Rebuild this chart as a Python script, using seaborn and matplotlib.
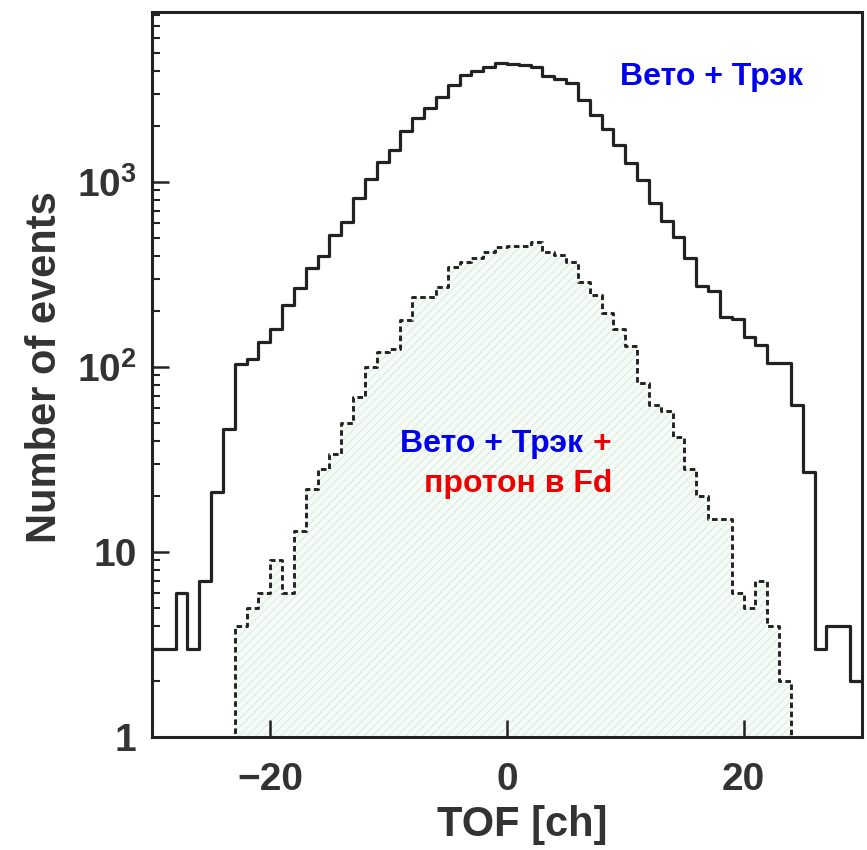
import numpy as np
import pandas as pd
import matplotlib
matplotlib.use("Agg")
import matplotlib.pyplot as plt
import seaborn as sns
from matplotlib.ticker import FixedLocator, FixedFormatter, LogLocator, NullFormatter, NullLocator

# ---- data ----
bin_left_all = list(range(-30, 30))          # TOF bins of width 1 [ch]
veto_track = [3, 3, 6, 3, 7, 21, 46, 104, 110, 136,
              160, 216, 267, 343, 398, 517, 608, 820, 1038, 1282,
              1489, 1888, 2218, 2513, 2878, 3342, 3785, 3984, 4175, 4400,
              4330, 4280, 4200, 3740, 3605, 3430, 2774, 2302, 1932, 1585,
              1268, 1026, 769, 615, 504, 390, 275, 258, 187, 182,
              145, 132, 105, 105, 62, 27, 3, 4, 4, 2]
bin_left_proton = list(range(-23, 24))
veto_track_proton = [4, 5, 6, 9, 6, 13, 22, 28, 34, 50,
                     69, 100, 120, 125, 180, 239, 239, 270, 346, 370,
                     388, 418, 446, 450, 450, 474, 418, 405, 370, 287,
                     246, 196, 160, 130, 82, 62, 58, 42, 28, 20,
                     15, 15, 6, 5, 7, 4, 2]
x_ticks = [-20, 0, 20]
x_tick_labels = ["\u221220", "0", "20"]
y_ticks = [1, 10, 100, 1000]
y_tick_labels = ["1", "10", r"$10^{2}$", r"$10^{3}$"]

sns.set_style("white")
plt.rcParams["font.family"] = ["Liberation Sans", "DejaVu Sans"]
plt.rcParams["font.weight"] = "bold"
plt.rcParams["mathtext.fontset"] = "custom"
plt.rcParams["mathtext.rm"] = "Liberation Sans:bold"
plt.rcParams["mathtext.bf"] = "Liberation Sans:bold"
plt.rcParams["mathtext.it"] = "Liberation Sans:bold"
plt.rcParams["hatch.color"] = "#d3edd9"
plt.rcParams["hatch.linewidth"] = 0.7

df_all = pd.DataFrame({"tof": np.array(bin_left_all) + 0.5, "n": veto_track})
df_p = pd.DataFrame({"tof": np.array(bin_left_proton) + 0.5, "n": veto_track_proton})
hist_kw = dict(x="tof", weights="n", bins=60, binrange=(-30, 30), element="step")

fig = plt.figure(figsize=(8.67, 8.5), dpi=100)
ax = fig.add_axes([0.1753, 0.1329, 0.8189, 0.8530])
ax.set_axisbelow(False)

# light hatched fill under the dashed histogram
sns.histplot(data=df_p, fill=True, color="#f7fbf8", alpha=1.0, linewidth=0, ax=ax, **hist_kw)
poly = ax.collections[-1]
poly.set_hatch("////")
poly.set_edgecolor("#d3edd9")
poly.set_linewidth(0)

# dashed outline
sns.histplot(data=df_p, fill=False, color="#222222", linewidth=2.1,
             linestyle=(0, (1.9, 1.2)), ax=ax, **hist_kw)
# solid outline
sns.histplot(data=df_all, fill=False, color="#222222", linewidth=2.3, ax=ax, **hist_kw)

ax.set_yscale("log")
ax.set_xlim(-30, 30)
ax.set_ylim(1, 8300)

ax.xaxis.set_major_locator(FixedLocator(x_ticks))
ax.xaxis.set_major_formatter(FixedFormatter(x_tick_labels))
ax.xaxis.set_minor_locator(NullLocator())
ax.yaxis.set_major_locator(FixedLocator(y_ticks))
ax.yaxis.set_major_formatter(FixedFormatter(y_tick_labels))
ax.yaxis.set_minor_locator(LogLocator(base=10, subs=range(2, 10)))
ax.yaxis.set_minor_formatter(NullFormatter())

ax.tick_params(axis="both", which="both", direction="in", top=False, right=False,
               left=True, bottom=True, colors="#222222", labelcolor="#333333")
ax.tick_params(axis="both", which="major", length=12, width=1.8, labelsize=28)
ax.tick_params(axis="x", which="major", pad=18)
ax.tick_params(axis="y", which="minor", length=6, width=1.5)
ax.tick_params(axis="y", which="major", pad=11)

for s in ax.spines.values():
    s.set_linewidth(2.2)
    s.set_color("#222222")
    s.set_visible(True)
    s.set_zorder(5)

ax.set_xlabel("TOF [ch]", fontsize=30, fontweight="bold", color="#333333")
ax.set_ylabel("Number of events", fontsize=30, fontweight="bold", color="#333333")
ax.xaxis.set_label_coords(0.522, -0.094)
ax.yaxis.set_label_coords(-0.123, 0.51)

fs = 23
ax.text(0.659, 0.899, "Вето + Трэк", transform=ax.transAxes, color="#0000ee",
        fontsize=fs, fontweight="bold", ha="left", va="baseline")
ax.text(0.6065, 0.393, "Вето + Трэк", transform=ax.transAxes, color="#0000ee",
        fontsize=fs, fontweight="bold", ha="right", va="baseline")
ax.text(0.647, 0.393, "+", transform=ax.transAxes, color="#ee0000",
        fontsize=fs, fontweight="bold", ha="right", va="baseline")
ax.text(0.648, 0.338, "протон в Fd", transform=ax.transAxes, color="#ee0000",
        fontsize=fs, fontweight="bold", ha="right", va="baseline")

fig.savefig("out.png", dpi=100)
